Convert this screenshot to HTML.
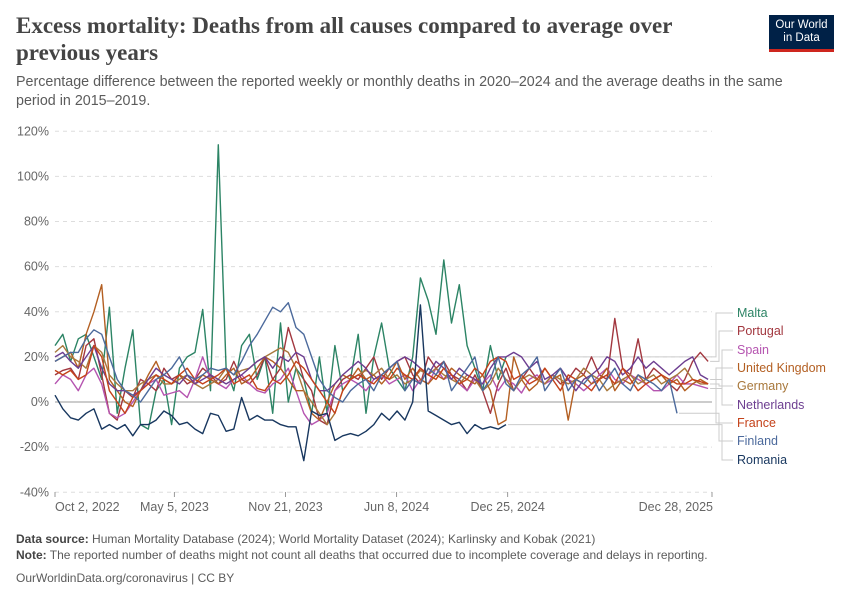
<!DOCTYPE html>
<html><head><meta charset="utf-8">
<style>
body{margin:0;width:850px;height:600px;background:#fff;font-family:"Liberation Sans",sans-serif;position:relative;overflow:hidden}
.t{position:absolute;left:16px;top:12px;font-family:"Liberation Serif",serif;font-weight:bold;font-size:23px;line-height:27px;color:#444;width:720px}
.s{position:absolute;left:16px;top:73px;font-size:14.3px;line-height:19px;color:#5b5b5b;width:800px}
.logo{position:absolute;left:769px;top:15px;width:65px;height:37px;background:#002147;border-bottom:3px solid #ce261e;color:#fff;font-size:11.5px;line-height:13px;text-align:center;padding-top:4px;box-sizing:border-box}
.f{position:absolute;left:16px;font-size:12px;color:#5b5b5b}
.f b{color:#444}
</style></head><body>
<div class="t">Excess mortality: Deaths from all causes compared to average over previous years</div>
<div class="s">Percentage difference between the reported weekly or monthly deaths in 2020–2024 and the average deaths in the same period in 2015–2019.</div>
<div class="logo">Our World<br>in Data</div>
<svg id="c" width="850" height="600" style="position:absolute;left:0;top:0"></svg>
<div class="f" style="top:532px"><b>Data source:</b> Human Mortality Database (2024); World Mortality Dataset (2024); Karlinsky and Kobak (2021)</div>
<div class="f" style="top:548px"><b>Note:</b> The reported number of deaths might not count all deaths that occurred due to incomplete coverage and delays in reporting.</div>
<div class="f" style="top:571px">OurWorldinData.org/coronavirus | CC BY</div>
<script>
const yTicks=[-40,-20,0,20,40,60,80,100,120];
const xTickLabels=["Oct 2, 2022","May 5, 2023","Nov 21, 2023","Jun 8, 2024","Dec 25, 2024","Dec 28, 2025"];
const xTickDays=[0,215,415,615,815,1183];
const names=["Malta","Portugal","Spain","United Kingdom","Germany","Netherlands","France","Finland","Romania"];
const colors=["#2c8465","#a2373f","#b554b0","#b35f22","#a8783c","#6d3e91","#c4421a","#4c6a9c","#18375f"];
const malta=[25,30,18,28,30,20,10,42,-5,15,32,-10,-12,5,10,-10,15,20,22,41,5,114,15,5,25,30,10,20,-5,35,0,15,10,-5,20,-5,25,5,10,30,-5,20,35,15,10,5,20,55,45,30,63,35,52,25,15,5,25,10,20];
const portugal=[12,14,15,10,25,28,12,-5,-8,5,2,10,8,5,15,10,12,8,10,15,12,8,10,18,10,8,12,20,10,15,33,22,10,5,-8,-10,5,10,12,10,15,20,10,15,18,20,12,8,20,15,18,12,10,5,12,5,-5,8,15,5,10,15,10,8,12,8,10,15,12,20,12,10,37,15,12,28,10,15,12,8,5,10,18,22,18];
const spain=[8,12,10,5,12,15,8,-5,-7,-5,0,5,8,10,3,4,5,2,10,20,10,8,6,10,12,8,5,4,8,10,15,5,-5,-10,-8,-5,5,8,10,8,5,10,12,8,10,12,5,10,8,15,10,12,8,5,10,8,12,5,10,8,4,10,12,8,10,15,10,8,5,8,12,15,10,8,12,10,8,5,5,8,12,8,8,7,6];
const uk=[18,20,22,15,30,40,52,10,5,0,-2,5,12,18,10,8,12,10,8,12,10,8,12,15,8,10,15,20,18,15,10,5,5,-5,-8,0,8,12,10,15,10,12,8,12,18,10,15,10,8,12,10,15,12,10,8,12,5,-10,-8,20,10,5,8,15,10,12,-8,10,12,8,10,15,5,10,8,12,8,10,12,8,10,5,8,10,8];
const germany=[22,25,20,18,15,25,22,12,8,5,5,8,10,12,8,8,10,12,8,6,8,10,15,12,14,15,18,20,22,24,22,15,5,0,-5,-10,-5,5,10,12,14,12,15,10,12,8,10,14,12,15,12,10,8,12,10,5,8,15,10,5,10,12,10,8,12,10,8,10,15,12,10,5,8,10,12,8,10,12,8,10,12,15,10,8,8];
const netherlands=[20,22,18,15,20,25,15,8,5,5,3,5,10,15,12,10,8,12,8,10,12,10,8,10,12,15,18,20,15,20,18,22,20,10,5,5,8,12,15,18,15,10,12,15,18,20,18,15,12,18,15,10,15,12,10,8,15,20,20,22,20,15,18,10,12,15,10,5,10,12,15,20,18,12,15,20,15,18,15,12,15,18,20,12,10];
const france=[14,12,14,10,12,25,20,5,0,-5,2,5,8,12,10,8,12,15,10,8,10,12,15,8,10,12,6,5,10,8,12,18,15,10,5,0,-5,5,10,12,10,8,12,10,15,12,10,15,12,10,15,12,8,10,15,12,18,20,18,10,12,8,10,15,10,5,12,10,8,5,10,12,8,15,10,5,8,10,12,10,8,8,10,9,8];
const finland=[18,20,22,22,28,32,30,20,10,5,3,0,5,10,12,15,20,12,10,12,15,14,15,12,18,25,30,36,42,40,44,33,30,20,10,5,2,0,5,8,10,5,12,15,18,5,10,8,15,12,18,5,10,15,20,5,10,20,8,5,12,15,20,5,10,15,5,10,8,12,5,10,15,8,5,12,10,8,5,10,-5];
const romania=[3,-3,-7,-8,-5,-3,-12,-10,-12,-10,-15,-10,-10,-8,-4,-6,-10,-9,-12,-14,-5,-6,-13,-12,2,-8,-6,-8,-8,-10,-11,-11,-26,-4,-6,-5,-17,-15,-14,-15,-13,-10,-5,-8,-4,-8,0,43,-4,-6,-8,-10,-9,-14,-10,-12,-11,-12,-10];
const series=[malta,portugal,spain,uk,germany,netherlands,france,finland,romania];
const labelY=[317,335,354,372,390,409,427,445,464];
const NS="http://www.w3.org/2000/svg",svg=document.getElementById('c');
const X0=55,X1=712,D1=1183,STEP=14;
const x=d=>X0+(X1-X0)*d/D1;
const y=v=>402-(v)*(361/160);
function mk(t,a){const e=document.createElementNS(NS,t);for(const k in a)e.setAttribute(k,a[k]);svg.appendChild(e);return e;}
yTicks.forEach(v=>{
 const g=mk('line',{x1:X0,x2:X1,y1:y(v),y2:y(v),stroke:v==0?'#bbb':'#ddd','stroke-width':v==0?1.5:1,'stroke-dasharray':v==0?'':'4,4'});
 
 
 const t=mk('text',{x:49,y:y(v)+4,'text-anchor':'end','font-size':12.5,fill:'#666'});t.textContent=v+'%';
 
 
});
xTickLabels.forEach((l,i)=>{
 const xx=x(xTickDays[i]);
 mk('line',{x1:xx,x2:xx,y1:492,y2:497,stroke:'#999'});
 const anchor=i==0?'start':(i==xTickLabels.length-1?'end':'middle');
 const t=mk('text',{x:i==xTickLabels.length-1?xx+1:xx,y:511,'text-anchor':anchor,'font-size':12.5,fill:'#666'});t.textContent=l;
 
 
});
series.forEach((s,k)=>{
 const pts=s.map((v,i)=>x(i*STEP).toFixed(1)+','+y(v).toFixed(1)).join(' ');
 const p=mk('polyline',{points:pts,fill:'none',stroke:colors[k],'stroke-width':1.4,'stroke-linejoin':'round'});
 
 
 const ex=x((s.length-1)*STEP),ey=y(s[s.length-1]);
 const mx=716+(k%3)*3;
 const c=mk('polyline',{points:`${ex+2},${ey} ${mx},${ey} ${mx},${labelY[k]-4} 733,${labelY[k]-4}`,fill:'none',stroke:'#ccc','stroke-width':1});
 
 
 const t=mk('text',{x:737,y:labelY[k],'font-size':12.5,fill:colors[k]});t.textContent=names[k];
 
 
});
</script>
</body></html>
